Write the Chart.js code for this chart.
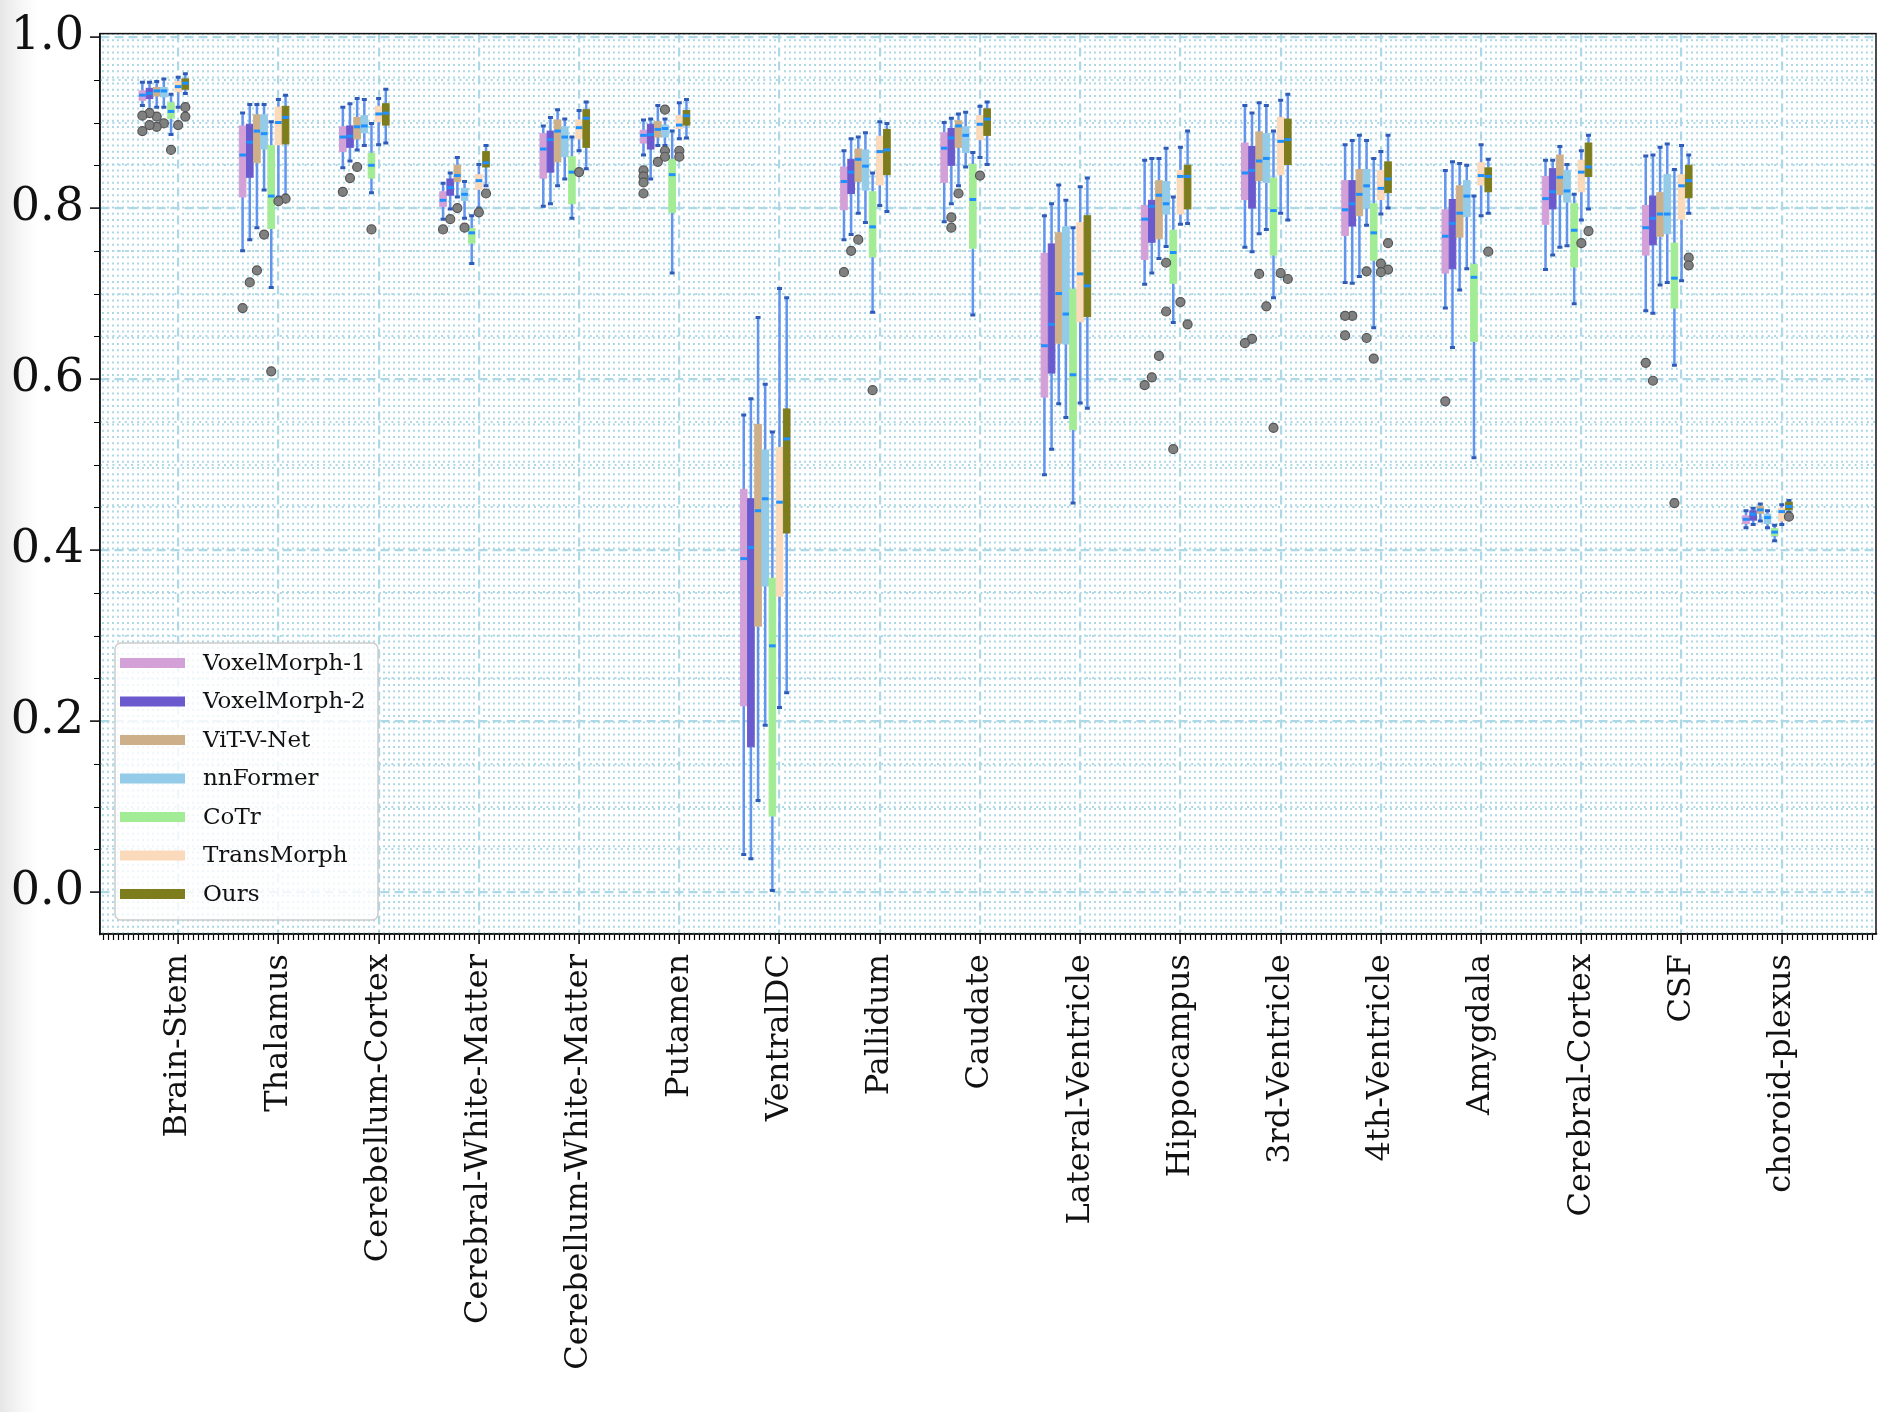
<!DOCTYPE html>
<html>
    <head>
        <script src="https://cdn.jsdelivr.net/npm/chart.js@4.4.1/dist/chart.umd.min.js"></script>
        <style>
            html, body { margin: 0; padding: 0; }
            body {
                width: 1904px; height: 1412px; overflow: hidden;
                background: linear-gradient(to right, #e6e6e6 0px, #f0f0f0 12px, #f8f8f8 24px, #ffffff 38px);
            }
            #wrap { width: 1904px; height: 1412px; position: relative; }
        </style>
    </head>
    <body>
        <div id="wrap">
            <canvas id="myChart"></canvas>
        </div>
    </body>
    <script>
        // 부위 이름 (x축)
        const categories = ['Brain-Stem', 'Thalamus', 'Cerebellum-Cortex', 'Cerebral-White-Matter',
            'Cerebellum-White-Matter', 'Putamen', 'VentralDC', 'Pallidum', 'Caudate', 'Lateral-Ventricle',
            'Hippocampus', '3rd-Ventricle', '4th-Ventricle', 'Amygdala', 'Cerebral-Cortex', 'CSF', 'choroid-plexus']
        const methods = ['VoxelMorph-1', 'VoxelMorph-2', 'ViT-V-Net', 'nnFormer', 'CoTr', 'TransMorph', 'Ours']
        const colors = ['#d4a0d8', '#6a5acd', '#cdb08a', '#93cbe8', '#a3ec96', '#fbd9bb', '#7d7d1e']
        const yTicks = [0.0, 0.2, 0.4, 0.6, 0.8, 1.0]

        // [아래 whisker, Q1, median, Q3, 위 whisker]
        const vm1Stats = [[0.920,0.926,0.932,0.937,0.947],[0.750,0.813,0.862,0.896,0.911],[0.847,0.866,0.883,0.895,0.918],
            [0.787,0.802,0.809,0.819,0.829],[0.802,0.835,0.869,0.887,0.896],[0.862,0.876,0.885,0.891,0.903],
            [0.044,0.218,0.390,0.471,0.558],[0.763,0.798,0.831,0.848,0.867],[0.784,0.830,0.870,0.888,0.900],
            [0.488,0.579,0.639,0.747,0.791],[0.711,0.740,0.787,0.803,0.856],[0.754,0.810,0.841,0.876,0.920],
            [0.713,0.768,0.798,0.832,0.874],[0.683,0.724,0.767,0.798,0.844],[0.728,0.781,0.811,0.837,0.856],
            [0.680,0.745,0.777,0.803,0.861],[0.426,0.431,0.436,0.440,0.446]]
        const vm2Stats = [[0.915,0.928,0.934,0.940,0.947],[0.763,0.836,0.877,0.898,0.921],[0.855,0.871,0.884,0.896,0.922],
            [0.799,0.815,0.824,0.834,0.841],[0.805,0.842,0.880,0.890,0.906],[0.834,0.869,0.886,0.898,0.904],
            [0.039,0.170,0.403,0.460,0.577],[0.769,0.817,0.842,0.857,0.881],[0.805,0.850,0.882,0.893,0.905],
            [0.518,0.607,0.664,0.758,0.805],[0.724,0.760,0.802,0.809,0.858],[0.749,0.800,0.844,0.872,0.911],
            [0.712,0.779,0.805,0.832,0.879],[0.637,0.729,0.782,0.810,0.854],[0.745,0.799,0.819,0.846,0.856],
            [0.677,0.757,0.788,0.814,0.862],[0.430,0.435,0.442,0.446,0.449]]
        const vitStats = [[0.918,0.931,0.937,0.941,0.948],[0.777,0.853,0.890,0.909,0.921],[0.868,0.881,0.895,0.906,0.928],
            [0.813,0.831,0.838,0.850,0.859],[0.826,0.854,0.890,0.903,0.915],[0.873,0.883,0.892,0.901,0.920],
            [0.107,0.311,0.446,0.547,0.672],[0.794,0.831,0.857,0.869,0.883],[0.826,0.871,0.896,0.902,0.910],
            [0.571,0.642,0.700,0.771,0.827],[0.741,0.764,0.815,0.832,0.858],[0.770,0.832,0.855,0.889,0.923],
            [0.720,0.791,0.816,0.845,0.885],[0.704,0.766,0.794,0.826,0.852],[0.754,0.816,0.836,0.862,0.872],
            [0.710,0.767,0.793,0.818,0.871],[0.434,0.443,0.447,0.451,0.454]]
        const nnfStats = [[0.918,0.930,0.937,0.941,0.951],[0.821,0.869,0.887,0.909,0.921],[0.873,0.888,0.896,0.908,0.927],
            [0.788,0.809,0.816,0.823,0.831],[0.834,0.860,0.883,0.895,0.904],[0.873,0.883,0.893,0.897,0.904],
            [0.195,0.358,0.460,0.517,0.594],[0.783,0.821,0.849,0.868,0.888],[0.848,0.865,0.885,0.895,0.912],
            [0.555,0.641,0.676,0.778,0.809],[0.755,0.793,0.805,0.831,0.870],[0.775,0.830,0.858,0.887,0.920],
            [0.780,0.800,0.826,0.845,0.879],[0.729,0.790,0.814,0.832,0.850],[0.756,0.807,0.820,0.844,0.851],
            [0.713,0.770,0.793,0.839,0.875],[0.426,0.431,0.438,0.442,0.446]]
        const cotrStats = [[0.886,0.905,0.913,0.923,0.933],[0.707,0.776,0.814,0.873,0.901],[0.818,0.835,0.850,0.864,0.899],
            [0.735,0.759,0.771,0.776,0.791],[0.788,0.805,0.842,0.860,0.883],[0.724,0.795,0.839,0.857,0.890],
            [0.002,0.089,0.288,0.367,0.538],[0.678,0.743,0.778,0.819,0.841],[0.675,0.753,0.810,0.851,0.865],
            [0.455,0.541,0.605,0.705,0.777],[0.666,0.712,0.748,0.774,0.813],[0.695,0.745,0.797,0.835,0.890],
            [0.660,0.739,0.771,0.805,0.858],[0.508,0.644,0.719,0.734,0.814],[0.688,0.731,0.774,0.805,0.816],
            [0.616,0.683,0.718,0.759,0.845],[0.411,0.417,0.421,0.425,0.429]]
        const tmStats = [[0.918,0.936,0.942,0.948,0.953],[0.813,0.874,0.900,0.918,0.927],[0.874,0.901,0.910,0.919,0.928],
            [0.800,0.822,0.832,0.839,0.851],[0.867,0.881,0.894,0.903,0.914],[0.881,0.893,0.897,0.908,0.923],
            [0.216,0.346,0.456,0.520,0.706],[0.803,0.827,0.866,0.884,0.901],[0.859,0.880,0.898,0.908,0.919],
            [0.572,0.667,0.723,0.783,0.825],[0.781,0.793,0.837,0.844,0.871],[0.794,0.839,0.878,0.906,0.926],
            [0.793,0.810,0.823,0.844,0.866],[0.791,0.827,0.838,0.853,0.874],[0.786,0.819,0.842,0.856,0.867],
            [0.715,0.787,0.826,0.839,0.873],[0.430,0.434,0.445,0.449,0.453]]
        const oursStats = [[0.934,0.939,0.946,0.951,0.957],[0.815,0.875,0.906,0.919,0.932],[0.876,0.897,0.911,0.922,0.939],
            [0.826,0.848,0.853,0.866,0.873],[0.846,0.871,0.905,0.915,0.924],[0.882,0.897,0.908,0.914,0.927],
            [0.233,0.420,0.530,0.565,0.695],[0.796,0.839,0.868,0.892,0.899],[0.851,0.885,0.904,0.916,0.924],
            [0.566,0.673,0.709,0.791,0.835],[0.782,0.799,0.837,0.850,0.890],[0.786,0.851,0.880,0.904,0.933],
            [0.800,0.818,0.834,0.854,0.885],[0.794,0.819,0.837,0.847,0.857],[0.799,0.837,0.848,0.876,0.885],
            [0.794,0.812,0.832,0.850,0.862],[0.444,0.447,0.451,0.456,0.458]]

        // 이상치 [부위 번호, 값]
        const vm1Outliers = [[0,0.908],[0,0.890],[1,0.683],[2,0.819],[3,0.775],[5,0.844],[5,0.837],[5,0.830],[5,0.817],
            [7,0.725],[10,0.593],[11,0.642],[12,0.674],[12,0.651],[13,0.574],[15,0.619]]
        const vm2Outliers = [[0,0.911],[0,0.897],[1,0.713],[2,0.835],[3,0.787],[7,0.750],[8,0.789],[8,0.777],
            [10,0.602],[11,0.647],[12,0.674],[15,0.598]]
        const vitOutliers = [[0,0.907],[0,0.895],[1,0.727],[2,0.848],[3,0.800],[5,0.854],[7,0.763],[8,0.817],
            [10,0.627],[11,0.723]]
        const nnfOutliers = [[0,0.899],[1,0.769],[3,0.777],[5,0.915],[5,0.867],[5,0.860],[10,0.736],[10,0.679],
            [11,0.685],[12,0.726],[12,0.648]]
        const cotrOutliers = [[0,0.868],[1,0.609],[2,0.775],[7,0.587],[10,0.518],[11,0.543],[12,0.624],[15,0.455]]
        const tmOutliers = [[0,0.897],[1,0.808],[3,0.795],[4,0.842],[5,0.867],[5,0.860],[8,0.838],[10,0.690],
            [11,0.724],[12,0.735],[12,0.725],[14,0.759]]
        const oursOutliers = [[0,0.918],[0,0.907],[1,0.811],[3,0.817],[10,0.664],[11,0.717],[12,0.759],[12,0.728],
            [13,0.749],[14,0.773],[15,0.742],[15,0.733],[16,0.439]]

        const allStats = [vm1Stats, vm2Stats, vitStats, nnfStats, cotrStats, tmStats, oursStats]
        const allOutliers = [vm1Outliers, vm2Outliers, vitOutliers, nnfOutliers, cotrOutliers, tmOutliers, oursOutliers]

        const boxStep = 1 / 14      // 박스 사이 간격
        const boxWidth = 0.066
        const minorStep = 0.05      // x, y 보조 눈금 간격
        const offsetOf = (j)=> (j - 5) * boxStep
        const serif = '"DejaVu Serif", "Liberation Serif", serif'
        const isWhole = (v, step)=> Math.abs(v / step - Math.round(v / step)) < 1e-6

        // 보조 격자 (점선)
        const minorGrid = {
            id: 'minorGrid',
            beforeDatasetsDraw(chart){
                const {ctx, chartArea: a, scales: {x, y}} = chart
                ctx.save()
                ctx.beginPath()
                ctx.rect(a.left, a.top, a.right - a.left, a.bottom - a.top)
                ctx.clip()
                ctx.strokeStyle = '#add8e6'
                ctx.lineWidth = 2
                ctx.setLineDash([2, 4.2])
                ctx.beginPath()
                const xs = Math.ceil(x.min / minorStep)
                for(let k = xs; k * minorStep <= x.max; k++){
                    const v = k * minorStep
                    if(isWhole(v, 1)) continue
                    const px = Math.round(x.getPixelForValue(v))
                    ctx.moveTo(px, a.bottom); ctx.lineTo(px, a.top)
                }
                const ys = Math.ceil(y.min / minorStep)
                for(let k = ys; k * minorStep <= y.max; k++){
                    const v = k * minorStep
                    if(isWhole(v, 0.2)) continue
                    const py = Math.round(y.getPixelForValue(v))
                    ctx.moveTo(a.left, py); ctx.lineTo(a.right, py)
                }
                ctx.stroke()
                ctx.restore()
            }
        }

        // 박스 그리기
        const boxDraw = {
            id: 'boxDraw',
            beforeDatasetsDraw(chart){
                const {ctx, scales: {x, y}} = chart
                const half = (x.getPixelForValue(boxWidth) - x.getPixelForValue(0)) / 2
                const capHalf = 2.5
                ctx.save()
                allStats.forEach((stats, j)=>{
                    stats.forEach((s, i)=>{
                        const cx = x.getPixelForValue(i + offsetOf(j))
                        const lo = y.getPixelForValue(s[0])
                        const q1 = y.getPixelForValue(s[1])
                        const md = y.getPixelForValue(s[2])
                        const q3 = y.getPixelForValue(s[3])
                        const hi = y.getPixelForValue(s[4])
                        // whisker
                        ctx.strokeStyle = '#6495ed'
                        ctx.lineWidth = 2.5
                        ctx.beginPath()
                        ctx.moveTo(cx, q1); ctx.lineTo(cx, lo)
                        ctx.moveTo(cx, q3); ctx.lineTo(cx, hi)
                        ctx.stroke()
                        // cap
                        ctx.strokeStyle = '#2f5cb8'
                        ctx.lineWidth = 3
                        ctx.beginPath()
                        ctx.moveTo(cx - capHalf, lo); ctx.lineTo(cx + capHalf, lo)
                        ctx.moveTo(cx - capHalf, hi); ctx.lineTo(cx + capHalf, hi)
                        ctx.stroke()
                        // box
                        ctx.fillStyle = colors[j]
                        ctx.fillRect(cx - half, q3, half * 2, q1 - q3)
                        ctx.strokeStyle = colors[j]
                        ctx.lineWidth = 1
                        ctx.strokeRect(cx - half, q3, half * 2, q1 - q3)
                        // median
                        ctx.strokeStyle = '#1e90ff'
                        ctx.lineWidth = 3
                        ctx.beginPath()
                        ctx.moveTo(cx - half, md); ctx.lineTo(cx + half, md)
                        ctx.stroke()
                    })
                })
                ctx.restore()
            }
        }

        // 테두리, 보조 눈금, 범례
        const frameAndLegend = {
            id: 'frameAndLegend',
            afterDraw(chart){
                const {ctx, chartArea: a, scales: {x, y}} = chart
                ctx.save()
                // 보조 눈금
                ctx.strokeStyle = '#000'
                ctx.lineWidth = 1.2
                ctx.beginPath()
                const xs = Math.ceil(x.min / minorStep)
                for(let k = xs; k * minorStep <= x.max; k++){
                    const v = k * minorStep
                    if(isWhole(v, 1)) continue
                    const px = Math.round(x.getPixelForValue(v)) + 0.5
                    ctx.moveTo(px, a.bottom); ctx.lineTo(px, a.bottom + 6)
                }
                for(let k = 0; k * minorStep <= y.max; k++){
                    const v = k * minorStep
                    if(isWhole(v, 0.2)) continue
                    const py = Math.round(y.getPixelForValue(v)) + 0.5
                    ctx.moveTo(a.left, py); ctx.lineTo(a.left - 6, py)
                }
                ctx.stroke()
                // 외곽선
                ctx.lineWidth = 1.5
                ctx.strokeStyle = '#111'
                ctx.strokeRect(a.left, a.top, a.right - a.left, a.bottom - a.top)

                // 범례
                const lx = a.left + 15, rowH = 38.5
                const lw = 263, lh = 277
                const ly = a.bottom - 14 - lh
                ctx.beginPath()
                ctx.roundRect(lx, ly, lw, lh, 6)
                ctx.fillStyle = 'rgba(255,255,255,0.8)'
                ctx.fill()
                ctx.strokeStyle = '#cccccc'
                ctx.lineWidth = 1.5
                ctx.stroke()
                ctx.font = '23px ' + serif
                ctx.textBaseline = 'middle'
                methods.forEach((m, j)=>{
                    const cy = ly + 20 + j * rowH
                    ctx.fillStyle = colors[j]
                    ctx.fillRect(lx + 5, cy - 5, 65, 10)
                    ctx.fillStyle = '#111'
                    ctx.fillText(m, lx + 88, cy + 1)
                })
                ctx.restore()
            }
        }

        const outlierSets = allOutliers.map((list, j)=>({
            label: methods[j],
            data: list.map(p=>({x: p[0] + offsetOf(j), y: p[1]})),
            pointRadius: 4.5,
            pointBackgroundColor: '#808080',
            pointBorderColor: '#555555',
            pointBorderWidth: 1.2,
            showLine: false
        }))

        const config = {
            type: 'scatter',
            data: { datasets: outlierSets },
            options: {
                responsive: true,
                maintainAspectRatio: false,
                animation: false,
                layout: { padding: { top: 33, right: 28, left: 0, bottom: 0 } },
                plugins: {
                    legend: { display: false },
                    tooltip: { enabled: false }
                },
                scales: {
                    x: {
                        type: 'linear',
                        min: -0.78,
                        max: 16.94,
                        afterBuildTicks: (scale)=>{ scale.ticks = categories.map((c, i)=>({value: i})) },
                        afterFit: (scale)=>{ scale.height = 478 },
                        grid: {
                            color: '#add8e6',
                            lineWidth: 2.2,
                            tickColor: '#000',
                            tickLength: 10,
                            tickWidth: 1.5,
                            tickBorderDash: []
                        },
                        border: { display: true, color: '#111', width: 1.5, dash: [9, 5] },
                        ticks: {
                            autoSkip: false,
                            minRotation: 90,
                            maxRotation: 90,
                            padding: 10,
                            color: '#111',
                            font: { family: serif, size: 32 },
                            callback: (v)=> categories[Math.round(v)]
                        }
                    },
                    y: {
                        min: -0.049,
                        max: 1.004,
                        afterBuildTicks: (scale)=>{ scale.ticks = yTicks.map(v=>({value: v})) },
                        afterFit: (scale)=>{ scale.width = 100 },
                        grid: {
                            color: '#add8e6',
                            lineWidth: 2.2,
                            tickColor: '#000',
                            tickLength: 10,
                            tickWidth: 1.5,
                            tickBorderDash: []
                        },
                        border: { display: true, color: '#111', width: 1.5, dash: [9, 5] },
                        ticks: {
                            padding: 6,
                            color: '#111',
                            font: { family: serif, size: 46 },
                            callback: (v)=> v.toFixed(1)
                        }
                    }
                }
            },
            plugins: [minorGrid, boxDraw, frameAndLegend]
        }
        const myChart = new Chart(document.getElementById('myChart'), config)
    </script>
</html>
